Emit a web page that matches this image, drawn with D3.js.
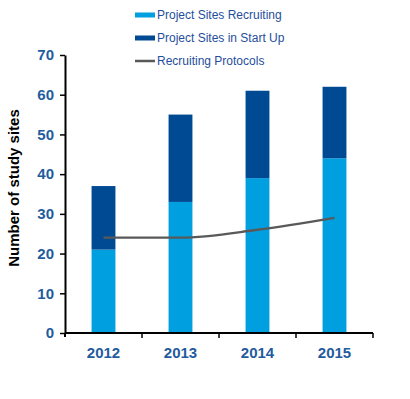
<!DOCTYPE html>
<html>
<head>
<meta charset="utf-8">
<script src="https://cdn.jsdelivr.net/npm/d3@7"></script>
<style>
  body { margin: 0; background: #fff; }
  text { font-family: "Liberation Sans", Arial, sans-serif; }
</style>
</head>
<body>
<div id="chart"></div>
<script>
// chart data
const years = ["2012", "2013", "2014", "2015"];
const recruiting = [21, 33, 39, 44];
const startUp = [16, 22, 22, 18];
const protocols = [24, 24, 26, 29];
const yTicks = [0, 10, 20, 30, 40, 50, 60, 70];

const seriesNames = ["Project Sites Recruiting", "Project Sites in Start Up", "Recruiting Protocols"];
const colors = ["#009fdf", "#004a94", "#595959"];

// set the dimensions and margins of the graph
const margin = {top: 55, right: 37, bottom: 66, left: 65},
  width = 410 - margin.left - margin.right,
  height = 399 - margin.top - margin.bottom;

const svg = d3.select("#chart")
  .append("svg")
  .attr("width", 410)
  .attr("height", 399)
  .append("g")
  .attr("transform", `translate(${margin.left},${margin.top})`);

// scales
const x = d3.scaleBand()
  .domain(years)
  .range([0, width])
  .paddingInner(0.69)
  .paddingOuter(0.345);

const y = d3.scaleLinear()
  .domain([0, 70])
  .range([height, 0]);

// stacked bars
const rows = years.map((yr, i) => ({year: yr, rec: recruiting[i], start: startUp[i]}));
const stacked = d3.stack().keys(["rec", "start"])(rows);

svg.selectAll(".layer")
  .data(stacked)
  .join("g")
  .attr("fill", (d, i) => colors[i])
  .selectAll("rect")
  .data(d => d)
  .join("rect")
  .attr("x", d => x(d.data.year))
  .attr("width", x.bandwidth())
  .attr("y", d => y(d[1]))
  .attr("height", d => y(d[0]) - y(d[1]));

// protocols line
const band = d3.scaleBand().domain(years).range([0, width]);
svg.append("path")
  .datum(protocols)
  .attr("fill", "none")
  .attr("stroke", colors[2])
  .attr("stroke-width", 2.3)
  .attr("d", d3.line()
    .x((d, i) => band(years[i]) + band.bandwidth() / 2)
    .y(d => y(d))
    .curve(d3.curveMonotoneX));

// Y axis
const yAxis = svg.append("g")
  .call(d3.axisLeft(y).tickValues(yTicks).tickSize(5).tickSizeOuter(0));
yAxis.select(".domain").attr("stroke", "#000").attr("stroke-width", 2);
yAxis.selectAll(".tick line").attr("stroke", "#000").attr("stroke-width", 1.5);
yAxis.selectAll(".tick text")
  .attr("x", -11)
  .attr("fill", "#1f5c9e")
  .attr("font-size", "15px")
  .attr("font-weight", "bold");

// X axis with ticks at band boundaries
svg.append("line")
  .attr("x1", 0).attr("x2", width)
  .attr("y1", height).attr("y2", height)
  .attr("stroke", "#000").attr("stroke-width", 2);

svg.selectAll(".xtick")
  .data(years)
  .join("line")
  .attr("x1", d => band(d) + band.bandwidth())
  .attr("x2", d => band(d) + band.bandwidth())
  .attr("y1", height)
  .attr("y2", height + 5)
  .attr("stroke", "#000").attr("stroke-width", 1.5);

svg.append("line")
  .attr("x1", 0).attr("x2", 0)
  .attr("y1", height).attr("y2", height + 4)
  .attr("stroke", "#000").attr("stroke-width", 2);

svg.selectAll(".xlabel")
  .data(years)
  .join("text")
  .attr("x", d => band(d) + band.bandwidth() / 2)
  .attr("y", height + 25)
  .attr("text-anchor", "middle")
  .attr("fill", "#1f5c9e")
  .attr("font-size", "15px")
  .attr("font-weight", "bold")
  .text(d => d);

// Y axis label
svg.append("text")
  .attr("transform", "rotate(-90)")
  .attr("x", -height / 2 + 6)
  .attr("y", -46)
  .attr("text-anchor", "middle")
  .attr("fill", "#000")
  .attr("font-size", "15px")
  .attr("font-weight", "bold")
  .text("Number of study sites");

// Legend
const legend = d3.select("svg").append("g")
  .attr("transform", "translate(135,15)");

const item = legend.selectAll("g")
  .data(seriesNames)
  .join("g")
  .attr("transform", (d, i) => `translate(0,${i * 23})`);

item.append("rect")
  .attr("x", 0)
  .attr("y", (d, i) => i === 2 ? -1.25 : -2.5)
  .attr("width", 20)
  .attr("height", (d, i) => i === 2 ? 2.5 : 5)
  .attr("fill", (d, i) => colors[i]);

item.append("text")
  .attr("x", 22)
  .attr("y", 4)
  .attr("fill", "#1f4e9c")
  .attr("font-size", "12px")
  .text(d => d);
</script>
</body>
</html>
